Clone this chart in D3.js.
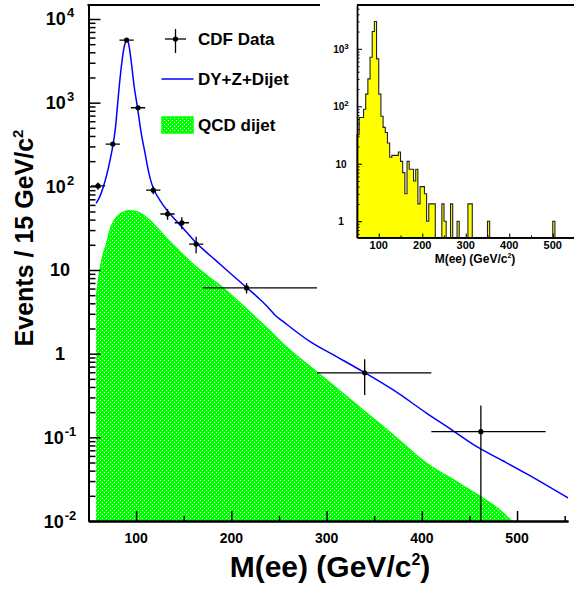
<!DOCTYPE html>
<html>
<head>
<meta charset="utf-8">
<script src="https://cdn.jsdelivr.net/npm/d3@7"></script>
<style>
  html, body { margin: 0; padding: 0; background: #fff; }
  svg { display: block; }
  text { font-family: "Liberation Sans", Arial, Helvetica, sans-serif; font-weight: bold; fill: #000; }
</style>
</head>
<body>
<svg id="chart" width="574" height="589"></svg>
<script>
// ---------------- DATA ----------------
// CDF data points (events / 15 GeV/c^2)
const dataX     = [60, 75.5, 90, 102, 118, 133, 148, 163, 216, 340, 462];
const dataXLow  = [52.5, 68, 82.5, 94.5, 110.5, 125.5, 140.5, 155.5, 170, 290, 410];
const dataXHigh = [67.5, 83, 97.5, 109.5, 125.5, 140.5, 155.5, 170.5, 290, 410, 530];
const dataY     = [101, 320, 5600, 870, 90, 46.7, 36.7, 20.4, 6.1, 0.59, 0.117];
const dataYLow  = [91, 302, 5525, 840, 80.5, 39.9, 30.6, 15.9, 5.23, 0.32, 0];
const dataYHigh = [111, 338, 5675, 900, 99.5, 53.5, 42.8, 24.9, 6.97, 0.86, 0.24];

// DY+Z+Dijet prediction (blue curve)
const blueM = [58, 62, 65.6, 69, 72.7, 76, 78.5, 80.3, 82.5, 85, 87, 88.5, 90, 91.5, 93, 95.5, 98, 101.4, 105, 109.4,
               113, 116.4, 120, 125.2, 132, 139.2, 150, 160.2, 171, 183, 200, 216.2, 228, 237.2, 246, 254.6, 282.7,
               310, 335.2, 370, 405.2, 430, 457.7, 485, 510.2, 554];
const blueV = [62.7, 75.9, 98.9, 135, 207, 327, 525, 891, 1660, 3020, 4365, 5130, 5560, 5370, 4470, 2690, 1550, 879, 457, 248,
               151, 107, 85.1, 67.6, 52.5, 42.2, 30.9, 22.9, 17.4, 13.2, 8.91, 6.14, 4.68, 3.72, 2.88, 2.41, 1.39,
               0.927, 0.638, 0.368, 0.194, 0.126, 0.0773, 0.0525, 0.0365, 0.0187];

// QCD dijet (green hatched area)
const greenM = [58, 60, 62, 64, 66, 70, 72, 75, 80, 86, 92, 100, 105, 112, 118, 125, 132, 146, 160, 175, 192, 210,
                225, 240, 258, 291, 330, 370, 405, 435, 462, 480, 497];
const greenV = [4.37, 7.08, 10, 13.2, 16.2, 22.9, 28.8, 35.5, 43.4, 49, 51.2, 50.1, 47.3, 41.7, 35.9, 29.5, 24, 16.6, 11.7,
                8.5, 6.03, 3.98, 2.75, 1.91, 1.2, 0.589, 0.254, 0.107, 0.049, 0.0302, 0.0195, 0.0141, 0.0093];

// Inset histogram: 5 GeV bins from 50 to 550
const histStart = 50, histBinWidth = 5;
const histCounts = [32, 64, 64, 89, 163, 300, 715, 2000, 3000, 670,
                    163, 67, 43, 35, 23, 13, 14, 14, 14, 16,
                    11, 7, 3, 11, 8, 8, 5, 8, 2, 4,
                    4, 3, 1, 2, 2, 2, 0, 0, 0, 2,
                    1, 0, 0, 2, 0, 0, 1, 0, 0, 0,
                    0, 2, 2, 0, 0, 0, 0, 0, 0, 0,
                    1, 0, 0, 0, 0, 0, 0, 0, 0, 0,
                    0, 0, 0, 0, 0, 0, 0, 0, 0, 0,
                    0, 0, 0, 0, 0, 0, 0, 0, 0, 0,
                    1, 0, 0, 0, 0, 0, 0, 0, 0, 0];

const mainXTicks = [100, 200, 300, 400, 500];
const mainXMinor = [50, 150, 250, 350, 450, 550];
const mainYTicks = [0.01, 0.1, 1, 10, 100, 1000, 10000];
const mainYLabels = [["10","-2"], ["10","-1"], ["1",""], ["10",""], ["10","2"], ["10","3"], ["10","4"]];
const insetXTicks = [100, 200, 300, 400, 500];
const insetXMinor = [50, 150, 250, 350, 450, 550];
const insetYTicks = [1, 10, 100, 1000];
const insetYLabels = [["1",""], ["10",""], ["10","2"], ["10","3"]];
const legendLabels = ["CDF Data", "DY+Z+Dijet", "QCD dijet"];

// ---------------- DRAW ----------------
const svg = d3.select("#chart");
const defs = svg.append("defs");

const pat = defs.append("pattern").attr("id", "hatch").attr("patternUnits", "userSpaceOnUse")
  .attr("x", 0).attr("y", 0).attr("width", 4).attr("height", 4);
pat.append("rect").attr("width", 4).attr("height", 4).attr("fill", "#00ff00");
[[0,0],[2,2]].forEach(([px, py]) => {
  pat.append("rect").attr("x", px).attr("y", py).attr("width", 1).attr("height", 1).attr("fill", "#fff")
    .attr("shape-rendering", "crispEdges");
});

const x = d3.scaleLinear().domain([50, 553.5]).range([88.5, 568]);
const y = d3.scaleLog().domain([0.01, 14700]).range([521, 5]);

defs.append("clipPath").attr("id", "clipMain").append("rect")
  .attr("x", x.range()[0]).attr("y", y.range()[1])
  .attr("width", x.range()[1] - x.range()[0]).attr("height", y.range()[0] - y.range()[1]);

const plot = svg.append("g").attr("clip-path", "url(#clipMain)");

// green area
const gData = greenM.map((m, i) => ({m, v: greenV[i]}));
const area = d3.area().x(d => x(d.m)).y0(y.range()[0]).y1(d => y(d.v)).curve(d3.curveMonotoneX);
plot.append("path").datum(gData).attr("d", area).attr("fill", "url(#hatch)");
const gline = d3.line().x(d => x(d.m)).y(d => y(d.v)).curve(d3.curveMonotoneX);
plot.append("path").datum(gData).attr("d", gline).attr("fill", "none").attr("stroke", "#00ff00").attr("stroke-width", 1.2);

// blue curve
const bData = blueM.map((m, i) => ({m, v: blueV[i]}));
plot.append("path").datum(bData).attr("d", gline).attr("fill", "none").attr("stroke", "#0000ff").attr("stroke-width", 1.5);

// data points
const pts = plot.append("g");
dataX.forEach((mx, i) => {
  const cx = x(mx), cy = y(dataY[i]);
  pts.append("line").attr("x1", x(dataXLow[i])).attr("x2", x(dataXHigh[i])).attr("y1", cy).attr("y2", cy)
    .attr("stroke", "#000").attr("stroke-width", 1.3);
  const yl = dataYLow[i] > 0 ? y(dataYLow[i]) : y.range()[0] + 5;
  pts.append("line").attr("x1", cx).attr("x2", cx).attr("y1", y(dataYHigh[i])).attr("y2", yl)
    .attr("stroke", "#000").attr("stroke-width", 1.3);
  pts.append("circle").attr("cx", cx).attr("cy", cy).attr("r", 2.6).attr("fill", "#000");
});

// axes
function styleAxis(g, w) {
  g.selectAll("path.domain").attr("stroke", "#000").attr("stroke-width", w);
  g.selectAll(".tick line").attr("stroke", "#000").attr("stroke-width", w * 0.75);
  g.selectAll(".tick text").remove();
}
const minorY = [];
for (let e = -2; e <= 4; e++) for (let k = 2; k <= 9; k++) { const v = k * Math.pow(10, e); if (v <= 14700) minorY.push(v); }
const gYMinor = svg.append("g").attr("transform", `translate(${x.range()[0]},0)`)
  .call(d3.axisLeft(y).tickValues(minorY).tickSizeInner(-7).tickSizeOuter(0).tickFormat(""));
styleAxis(gYMinor, 2);
const gY = svg.append("g").attr("transform", `translate(${x.range()[0]},0)`)
  .call(d3.axisLeft(y).tickValues(mainYTicks).tickSizeInner(-12).tickSizeOuter(0).tickFormat(""));
styleAxis(gY, 2);
const gXMinor = svg.append("g").attr("transform", `translate(0,${y.range()[0]})`)
  .call(d3.axisBottom(x).tickValues(mainXMinor).tickSizeInner(-5).tickSizeOuter(0).tickFormat(""));
styleAxis(gXMinor, 2);
const gX = svg.append("g").attr("transform", `translate(0,${y.range()[0]})`)
  .call(d3.axisBottom(x).tickValues(mainXTicks).tickSizeInner(-10).tickSizeOuter(0).tickFormat(""));
styleAxis(gX, 2);
// top frame line
svg.append("line").attr("x1", x.range()[0] - 1).attr("x2", 574).attr("y1", y.range()[1]).attr("y2", y.range()[1])
  .attr("stroke", "#000").attr("stroke-width", 2);

// tick labels
mainXTicks.forEach(v => {
  svg.append("text").attr("x", x(v)).attr("y", 543).attr("text-anchor", "middle").attr("font-size", 14).text(v);
});
mainYTicks.forEach((v, i) => {
  const t = svg.append("text").attr("x", 60).attr("y", y(v) + 6.5).attr("text-anchor", "middle").attr("font-size", 18);
  t.append("tspan").text(mainYLabels[i][0]);
  if (mainYLabels[i][1]) t.append("tspan").attr("dy", -8).attr("dx", 1).attr("font-size", 13).text(mainYLabels[i][1]);
});

// axis titles
const yt = svg.append("text").attr("transform", "translate(33,238) rotate(-90)").attr("text-anchor", "middle").attr("font-size", 25);
yt.append("tspan").text("Events / 15 GeV/c");
yt.append("tspan").attr("dy", -10).attr("font-size", 15).text("2");
const xt = svg.append("text").attr("x", 330).attr("y", 577).attr("text-anchor", "middle").attr("font-size", 30);
xt.append("tspan").text("M(ee) (GeV/c");
xt.append("tspan").attr("dy", -12).attr("font-size", 16).text("2");
xt.append("tspan").attr("dy", 12).text(")");

// legend
const lg = svg.append("g");
lg.append("line").attr("x1", 165).attr("x2", 186).attr("y1", 39).attr("y2", 39).attr("stroke", "#000").attr("stroke-width", 1.3);
lg.append("line").attr("x1", 175.5).attr("x2", 175.5).attr("y1", 29).attr("y2", 53).attr("stroke", "#000").attr("stroke-width", 1.3);
lg.append("circle").attr("cx", 175.5).attr("cy", 39).attr("r", 2.6).attr("fill", "#000");
lg.append("line").attr("x1", 161.5).attr("x2", 193.5).attr("y1", 79).attr("y2", 79).attr("stroke", "#0000ff").attr("stroke-width", 1.5);
lg.append("rect").attr("x", 162).attr("y", 117).attr("width", 31).attr("height", 16).attr("fill", "url(#hatch)")
  .attr("stroke", "#00ff00").attr("stroke-width", 1.5);
[45, 85, 131].forEach((by, i) => {
  lg.append("text").attr("x", 198).attr("y", by).attr("font-size", 17).text(legendLabels[i]);
});

// ---------------- INSET ----------------
const xi = d3.scaleLinear().domain([50, 550]).range([357, 574.5]);
const yi = d3.scaleLog().domain([0.52, 5800]).range([237.5, 5]);
const inset = svg.append("g");
inset.append("rect").attr("x", 320).attr("y", 0).attr("width", 254).attr("height", 272).attr("fill", "#fff");

// histogram step path
const base = yi.range()[0];
const bins = histCounts.map((c, i) => ({x0: histStart + i * histBinWidth, x1: histStart + (i + 1) * histBinWidth, c}));
let dPath = `M${xi(bins[0].x0)},${base}`;
bins.forEach(b => {
  const hy = b.c > 0 ? yi(b.c) : base;
  dPath += `L${xi(b.x0)},${hy}L${xi(b.x1)},${hy}`;
});
dPath += `L${xi(bins[bins.length - 1].x1)},${base}Z`;
inset.append("path").attr("d", dPath).attr("fill", "#ffff00").attr("stroke", "#222").attr("stroke-width", 1.1);

const iyMinor = [];
for (let e = -1; e <= 3; e++) for (let k = 2; k <= 9; k++) { const v = k * Math.pow(10, e); if (v >= 0.52 && v <= 5800) iyMinor.push(v); }
const giYm = inset.append("g").attr("transform", `translate(${xi.range()[0]},0)`)
  .call(d3.axisLeft(yi).tickValues(iyMinor).tickSizeInner(-2.5).tickSizeOuter(0).tickFormat(""));
styleAxis(giYm, 1.4);
const giY = inset.append("g").attr("transform", `translate(${xi.range()[0]},0)`)
  .call(d3.axisLeft(yi).tickValues(insetYTicks).tickSizeInner(-5).tickSizeOuter(0).tickFormat(""));
styleAxis(giY, 1.4);
const giXm = inset.append("g").attr("transform", `translate(0,${base})`)
  .call(d3.axisBottom(xi).tickValues(insetXMinor).tickSizeInner(-2).tickSizeOuter(0).tickFormat(""));
styleAxis(giXm, 1.4);
const giX = inset.append("g").attr("transform", `translate(0,${base})`)
  .call(d3.axisBottom(xi).tickValues(insetXTicks).tickSizeInner(-4).tickSizeOuter(0).tickFormat(""));
styleAxis(giX, 1.4);
inset.append("line").attr("x1", xi.range()[0]).attr("x2", 574).attr("y1", 5).attr("y2", 5).attr("stroke", "#000").attr("stroke-width", 2);

insetXTicks.forEach(v => {
  inset.append("text").attr("x", xi(v)).attr("y", 249).attr("text-anchor", "middle").attr("font-size", 11).text(v);
});
insetYTicks.forEach((v, i) => {
  const t = inset.append("text").attr("x", 341).attr("y", yi(v) + 4).attr("text-anchor", "middle").attr("font-size", 10);
  t.append("tspan").text(insetYLabels[i][0]);
  if (insetYLabels[i][1]) t.append("tspan").attr("dy", -4).attr("font-size", 8).text(insetYLabels[i][1]);
});
const it = inset.append("text").attr("x", 475).attr("y", 263).attr("text-anchor", "middle").attr("font-size", 12);
it.append("tspan").text("M(ee) (GeV/c");
it.append("tspan").attr("dy", -5).attr("font-size", 7).text("2");
it.append("tspan").attr("dy", 5).text(")");
</script>
</body>
</html>
